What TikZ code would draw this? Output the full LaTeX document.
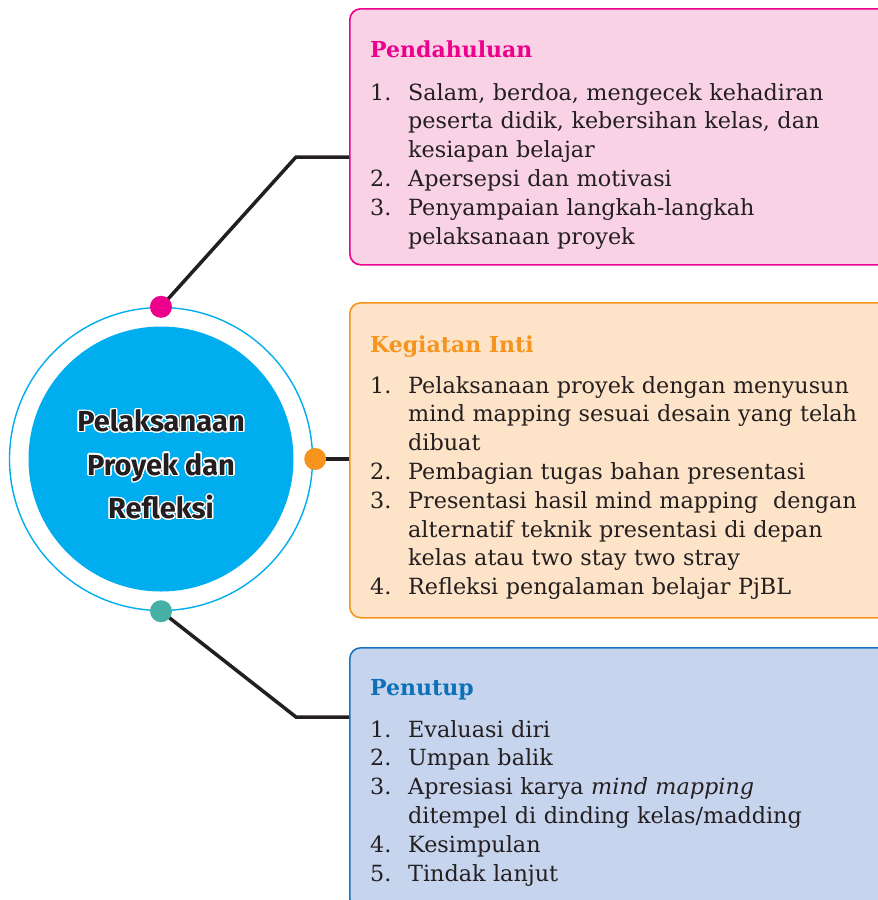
\documentclass[tikz,border=0pt]{standalone}
\usepackage{fontspec}
\setmainfont{DejaVu Serif}
\newfontfamily\hubfont{Fira Sans}
\usepackage{contour}
\contourlength{1.4pt}
\usetikzlibrary{positioning}

\definecolor{ink}{HTML}{231F20}
\definecolor{hubcyan}{HTML}{00AEEF}
\definecolor{magentaline}{HTML}{EC008C}
\definecolor{pinkfill}{HTML}{F9D3E5}
\definecolor{orangeline}{HTML}{F7941D}
\definecolor{peachfill}{HTML}{FDE3C8}
\definecolor{blueline}{HTML}{1C75BC}
\definecolor{bluefill}{HTML}{C7D4EE}
\definecolor{bluehead}{HTML}{0C71B8}
\definecolor{tealdot}{HTML}{45B0A6}

\newcommand\listitem[2]{\hangindent=38pt\hangafter=1\noindent\makebox[38pt][l]{\strut#1.}#2\par}

\tikzset{
  panel/.style={draw=#1, line width=1.6pt, rounded corners=11pt, anchor=north west,
    minimum width=545pt, inner sep=0pt},
  dot/.style={circle, fill=#1, minimum size=22pt, inner sep=0pt},
  link/.style={ink, line width=3.5pt},
  heading/.style={anchor=base west, inner sep=0pt, text=#1,
    font=\fontsize{22}{26}\selectfont\bfseries},
  steps/.style={anchor=north west, inner sep=0pt, text=ink, text width=505pt,
    align=left, font=\fontsize{22.3}{28.8}\selectfont}
}

\begin{document}
\begin{tikzpicture}[x=1pt,y=-1pt]
  \useasboundingbox[fill=white] (0,0) rectangle (878,900);
  \clip (0,0) rectangle (878,900);

  %%%%% boxes %%%%%
  \node[panel=magentaline, fill=pinkfill, minimum height=256pt] (pendahuluan) at (349,8) {};
  \node[panel=orangeline, fill=peachfill, minimum height=315pt] (inti) at (349,302) {};
  \node[panel=blueline, fill=bluefill, minimum height=262pt] (penutup) at (349,647) {};

  %%%%% hub %%%%%
  \node[circle, draw=hubcyan, line width=1.4pt, minimum size=303pt, inner sep=0pt] (ring) at (161,459) {};
  \node[circle, fill=hubcyan, minimum size=265pt, inner sep=0pt] (hub) at (ring.center) {};
  \node[align=center, text=ink, font=\hubfont\fontsize{29}{43.5}\selectfont\bfseries] (hubtext) at (161,465)
    {\contour{white}{Pelaksanaan}\\ \contour{white}{Proyek dan}\\ \contour{white}{Refleksi}};

  %%%%% connectors %%%%%
  \coordinate (bendA) at (296,157);
  \coordinate (bendC) at (296,717);
  \draw[link] (ring.north) -- (bendA) -- (bendA -| pendahuluan.west);
  \draw[link] (ring.east) -- (ring.east -| inti.west);
  \draw[link] (ring.south) -- (bendC) -- (bendC -| penutup.west);

  \node[dot=magentaline] (dotA) at (ring.north) {};
  \node[dot=orangeline] (dotB) at ([xshift=2pt]ring.east) {};
  \node[dot=tealdot] (dotC) at (ring.south) {};

  %%%%% texts %%%%%
  \node[heading=magentaline] (headA) at (370,57) {Pendahuluan};
  \node[steps] (listA) at (370,79.8) {
    \listitem{1}{Salam, berdoa, mengecek kehadiran\newline peserta didik, kebersihan kelas, dan\newline kesiapan belajar}
    \listitem{2}{Apersepsi dan motivasi}
    \listitem{3}{Penyampaian langkah-langkah\newline pelaksanaan proyek}};

  \node[heading=orangeline] (headB) at (370,352) {Kegiatan Inti};
  \node[steps] (listB) at (370,372.8) {
    \listitem{1}{Pelaksanaan proyek dengan menyusun\newline mind mapping sesuai desain yang telah\newline dibuat}
    \listitem{2}{Pembagian tugas bahan presentasi}
    \listitem{3}{Presentasi hasil mind mapping\ \ dengan\newline alternatif teknik presentasi di depan\newline kelas atau two stay two stray}
    \listitem{4}{Refleksi pengalaman belajar PjBL}};

  \node[heading=bluehead] (headC) at (370,695) {Penutup};
  \node[steps] (listC) at (370,716.8) {
    \listitem{1}{Evaluasi diri}
    \listitem{2}{Umpan balik}
    \listitem{3}{Apresiasi karya \textit{mind mapping}\newline ditempel di dinding kelas/madding}
    \listitem{4}{Kesimpulan}
    \listitem{5}{Tindak lanjut}};
\end{tikzpicture}
\end{document}
